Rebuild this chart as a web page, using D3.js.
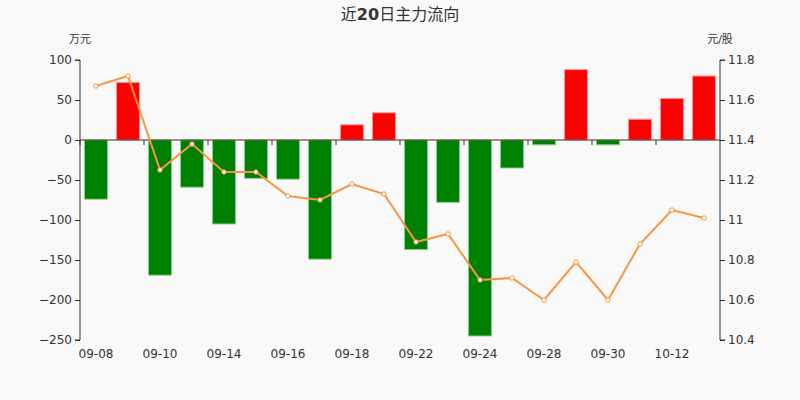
<!DOCTYPE html>
<html><head><meta charset="utf-8">
<script src="https://cdn.jsdelivr.net/npm/d3@7/dist/d3.min.js"></script>
<style>body{margin:0;background:#f9f9f9;}svg{display:block;}</style>
</head><body><svg id="c" width="800" height="400"></svg>
<script>
const categories = ["09-08","09-09","09-10","09-11","09-14","09-15","09-16","09-17","09-18","09-21","09-22","09-23","09-24","09-25","09-28","09-29","09-30","10-09","10-12","10-13"];
const flowValues = [-74,72,-169,-59,-105,-48,-49,-149,19,34,-137,-78,-245,-35,-6,88,-6,26,52,80];
const priceValues = [11.67,11.72,11.25,11.38,11.24,11.24,11.12,11.10,11.18,11.13,10.89,10.93,10.70,10.71,10.60,10.79,10.60,10.88,11.05,11.01];
const leftTicks = [100,50,0,-50,-100,-150,-200,-250];
const rightTicks = [11.8,11.6,11.4,11.2,11,10.8,10.6,10.4];

const svg = d3.select("#c");
const L=80,R=720,T=60,B=340;
const font = "'DejaVu Sans','Noto Sans CJK SC',sans-serif";
const tc = "#333";

const x = d3.scaleBand().domain(categories).range([L,R]).paddingInner(0.28).paddingOuter(0.14);
const xb = d3.scaleBand().domain(categories).range([L,R]);
const y = d3.scaleLinear().domain([-250,100]).range([B,T]);
const y2 = d3.scaleLinear().domain([10.4,11.8]).range([B,T]);

svg.append("rect").attr("width",800).attr("height",400).attr("fill","#f9f9f9");

// title
const title = svg.append("text").attr("x",400).attr("y",20).attr("text-anchor","middle")
  .attr("font-family",font).attr("font-size",16).attr("fill",tc);
title.append("tspan").text("近");
title.append("tspan").attr("font-weight","bold").text("20");
title.append("tspan").text("日主力流向");

svg.append("text").attr("x",80).attr("y",43).attr("text-anchor","middle").attr("font-family",font).attr("font-size",11).attr("fill",tc).text("万元");
svg.append("text").attr("x",720).attr("y",43).attr("text-anchor","middle").attr("font-family",font).attr("font-size",11).attr("fill",tc).text("元/股");

// bars
svg.append("g").selectAll("rect").data(flowValues).join("rect")
  .attr("x",(d,i)=>x(categories[i]))
  .attr("width",x.bandwidth())
  .attr("y",d=>d>=0?y(d):y(0))
  .attr("height",d=>Math.abs(y(d)-y(0)))
  .attr("fill",d=>d>=0?"#ff0000":"#008000")
  .attr("stroke",d=>d>=0?"#ff9a9a":"#8fd08f")
  .attr("stroke-width",1);

// left axis
const ga = svg.append("g").attr("transform",`translate(${L},0)`)
  .call(d3.axisLeft(y).tickValues(leftTicks).tickSize(5).tickPadding(3).tickFormat(d3.format("d")));
ga.selectAll("path,line").attr("stroke",tc);
ga.selectAll("text").attr("font-family",font).attr("font-size",12).attr("fill",tc);
ga.select(".domain").attr("d",`M-5,${T}H0V${B}H-5`);

// right axis
const gr = svg.append("g").attr("transform",`translate(${R},0)`)
  .call(d3.axisRight(y2).tickValues(rightTicks).tickSize(5).tickPadding(3).tickFormat(d=>String(+d.toFixed(1))));
gr.selectAll("path,line").attr("stroke",tc);
gr.selectAll("text").attr("font-family",font).attr("font-size",12).attr("fill",tc);
gr.select(".domain").attr("d",`M5,${T}H0V${B}H5`);

// x axis line at zero
const gx = svg.append("g");
gx.append("line").attr("x1",L).attr("x2",R).attr("y1",y(0)).attr("y2",y(0)).attr("stroke",tc);
gx.selectAll("line.t").data(categories.filter((d,i)=>i%2===0)).join("line").attr("class","t")
  .attr("x1",d=>xb(d)).attr("x2",d=>xb(d)).attr("y1",y(0)).attr("y2",y(0)+5).attr("stroke",tc);
gx.selectAll("text").data(categories.filter((d,i)=>i%2===0)).join("text")
  .attr("x",d=>xb(d)+xb.bandwidth()/2).attr("y",358).attr("text-anchor","middle")
  .attr("font-family",font).attr("font-size",12).attr("fill",tc).text(d=>d);

// price line
const line = d3.line().x((d,i)=>xb(categories[i])+xb.bandwidth()/2).y(d=>y2(d));
svg.append("path").datum(priceValues).attr("d",line).attr("fill","none").attr("stroke","#f7963f").attr("stroke-width",2);
svg.append("g").selectAll("circle").data(priceValues).join("circle")
  .attr("cx",(d,i)=>xb(categories[i])+xb.bandwidth()/2).attr("cy",d=>y2(d)).attr("r",2.2)
  .attr("fill","#fff").attr("stroke","#f7963f").attr("stroke-width",1);
</script></body></html>
